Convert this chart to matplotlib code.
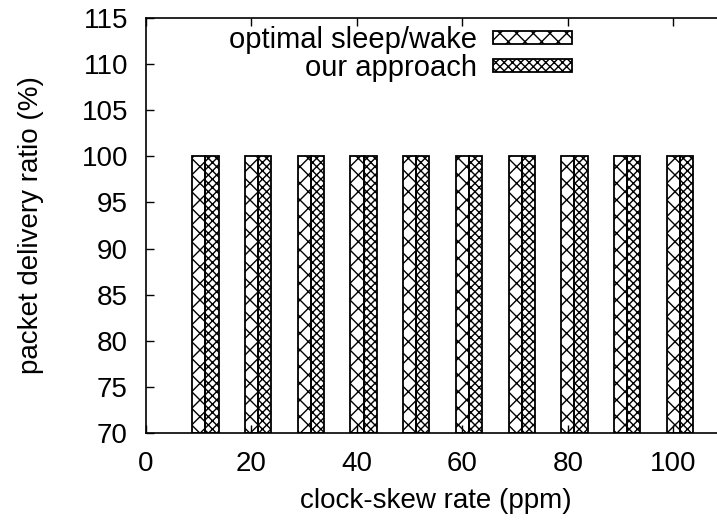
import matplotlib
matplotlib.use("Agg")
import matplotlib.pyplot as plt
import numpy as np

plt.rcParams['font.family'] = ['Liberation Sans', 'DejaVu Sans']
plt.rcParams['hatch.linewidth'] = 1.0

skew = [10, 20, 30, 40, 50, 60, 70, 80, 90, 100]
optimal = [100, 100, 100, 100, 100, 100, 100, 100, 100, 100]
ours = [100, 100, 100, 100, 100, 100, 100, 100, 100, 100]
labels = ['optimal sleep/wake', 'our approach']

fig = plt.figure(figsize=(7.17, 5.29), dpi=100)
ax = fig.add_axes([146/717, (529-433)/529, 580/717, (433-18)/529])

x = np.array(skew)
w = 2.5
ax.bar(x, np.array(optimal) - 70, w, bottom=70, fill=False, hatch='xx',
       edgecolor='black', linewidth=1.3, label=labels[0])
ax.bar(x + w, np.array(ours) - 70, w, bottom=70, fill=False, hatch='xxxx',
       edgecolor='black', linewidth=1.3, label=labels[1])

ax.set_xlim(0, 110)
ax.set_ylim(70, 115)
ax.set_xticks([0, 20, 40, 60, 80, 100])
ax.set_yticks(range(70, 116, 5))
ax.tick_params(direction='in', top=True, right=True, labelsize=20, length=6, width=1)
ax.tick_params(axis='y', pad=13)
ax.tick_params(axis='x', pad=13)
for s in ax.spines.values():
    s.set_linewidth(1.2)

ax.set_xlabel('clock-skew rate (ppm)', fontsize=20, labelpad=8)
ax.set_ylabel('packet delivery ratio (%)', fontsize=20, labelpad=27)

ax.legend(loc='upper right', bbox_to_anchor=(572/717, (529-26)/529),
          bbox_transform=fig.transFigure, frameon=False, fontsize=21,
          markerfirst=False, handlelength=2.7, handleheight=0.34, labelspacing=0.0,
          handletextpad=0.55, borderpad=0, borderaxespad=0)

fig.savefig('out.png', dpi=100)
